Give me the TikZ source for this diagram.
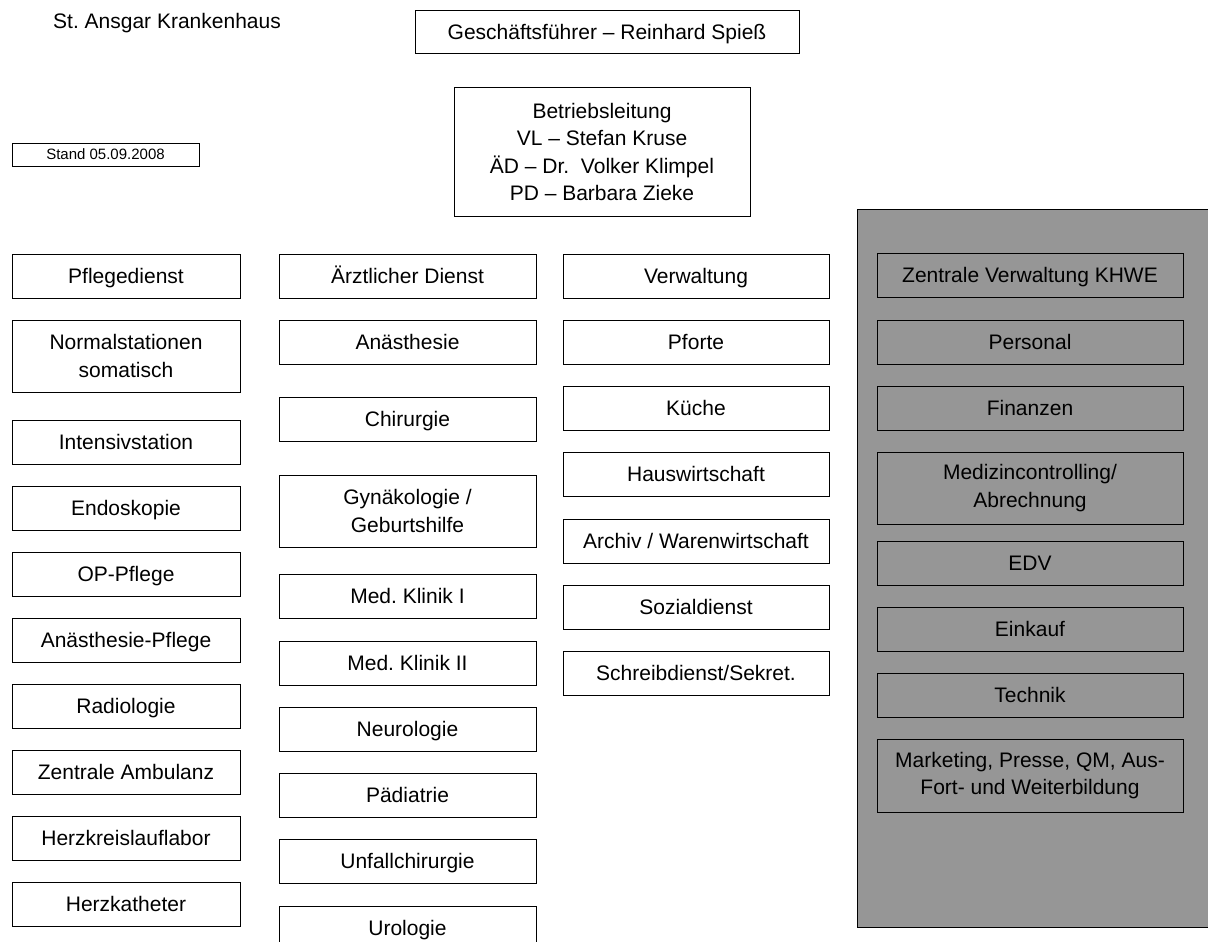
\documentclass[tikz,border=0pt]{standalone}
\usepackage{fontspec}
\setmainfont{Liberation Sans}
\usetikzlibrary{positioning}
\definecolor{khwegray}{RGB}{150,150,150}
\tikzset{
  unit/.style={draw, line width=1pt, inner sep=0pt, outer sep=0pt, minimum height=44pt,
    text height=19pt, text depth=5pt,
    align=center, font=\fontsize{21}{27.5}\selectfont},
  multi/.style={text height=, text depth=},
  pflegebox/.style={unit, minimum width=228pt},
  arztbox/.style={unit, minimum width=257pt},
  verwbox/.style={unit, minimum width=266pt},
  khwebox/.style={unit, minimum width=306pt, fill=khwegray},
}
\begin{document}
\frenchspacing
\begin{tikzpicture}[x=1pt,y=1pt,node distance=22pt]
  \useasboundingbox (0,0) rectangle (1208,-942);
  % kopf
  \node[font=\fontsize{21}{25}\selectfont] (haus) at (167,-23) {St. Ansgar Krankenhaus};
  \node[unit, minimum width=384pt, minimum height=43pt] (gf) at (607,-32.5) {Geschäftsführer – Reinhard Spieß};
  \node[unit, multi, minimum width=296pt, minimum height=128pt] (bl) at (602,-152)
    {Betriebsleitung\\VL – Stefan Kruse\\ÄD – Dr.\ \ Volker Klimpel\\PD – Barbara Zieke};
  \node[unit, minimum width=187pt, minimum height=23pt, text height=12pt, text depth=2pt,
    font=\fontsize{15}{18}\selectfont] (stand) at (105.5,-154.5) {Stand 05.09.2008};

  % Pflegedienst
  \node[pflegebox] (pflege) at (126,-276) {Pflegedienst};
  \node[pflegebox, multi, minimum height=72pt] (normal) [below=of pflege] {Normalstationen\\somatisch};
  \node[pflegebox] (intensiv) [below=28pt of normal] {Intensivstation};
  \node[pflegebox] (endo) [below=of intensiv] {Endoskopie};
  \node[pflegebox] (oppflege) [below=of endo] {OP-Pflege};
  \node[pflegebox] (anpflege) [below=of oppflege] {Anästhesie-Pflege};
  \node[pflegebox] (radio) [below=of anpflege] {Radiologie};
  \node[pflegebox] (ambulanz) [below=of radio] {Zentrale Ambulanz};
  \node[pflegebox] (hkl) [below=of ambulanz] {Herzkreislauflabor};
  \node[pflegebox] (hk) [below=of hkl] {Herzkatheter};

  % Aerztlicher Dienst
  \node[arztbox] (arzt) at (407.5,-276) {Ärztlicher Dienst};
  \node[arztbox] (anae) [below=of arzt] {Anästhesie};
  \node[arztbox] (chir) [below=33pt of anae] {Chirurgie};
  \node[arztbox, multi, minimum height=72pt] (gyn) [below=34pt of chir] {Gynäkologie /\\Geburtshilfe};
  \node[arztbox] (med1) [below=27pt of gyn] {Med. Klinik I};
  \node[arztbox] (med2) [below=23pt of med1] {Med. Klinik II};
  \node[arztbox] (neuro) [below=of med2] {Neurologie};
  \node[arztbox] (paed) [below=of neuro] {Pädiatrie};
  \node[arztbox] (unfall) [below=of paed] {Unfallchirurgie};
  \node[arztbox] (uro) [below=23pt of unfall] {Urologie};

  % Verwaltung
  \node[verwbox] (verw) at (696,-276) {Verwaltung};
  \node[verwbox] (pforte) [below=22.3pt of verw] {Pforte};
  \node[verwbox] (kueche) [below=22.3pt of pforte] {Küche};
  \node[verwbox] (hausw) [below=22.3pt of kueche] {Hauswirtschaft};
  \node[verwbox] (archiv) [below=22.3pt of hausw] {Archiv / Warenwirtschaft};
  \node[verwbox] (sozial) [below=22.3pt of archiv] {Sozialdienst};
  \node[verwbox] (schreib) [below=22.3pt of sozial] {Schreibdienst/Sekret.};

  % Zentrale Verwaltung KHWE
  \draw[line width=1pt, fill=khwegray] (857,-209) rectangle (1230,-927);
  \node[khwebox] (zv) at (1030,-275) {Zentrale Verwaltung KHWE};
  \node[khwebox] (personal) [below=23pt of zv] {Personal};
  \node[khwebox] (finanzen) [below=of personal] {Finanzen};
  \node[khwebox, multi, minimum height=72pt] (medcon) [below=of finanzen] {Medizincontrolling/\\Abrechnung};
  \node[khwebox] (edv) [below=17pt of medcon] {EDV};
  \node[khwebox] (einkauf) [below=of edv] {Einkauf};
  \node[khwebox] (technik) [below=of einkauf] {Technik};
  \node[khwebox, multi, minimum height=73pt] (marketing) [below=of technik] {Marketing, Presse, QM, Aus-\\Fort- und Weiterbildung};
\end{tikzpicture}
\end{document}
